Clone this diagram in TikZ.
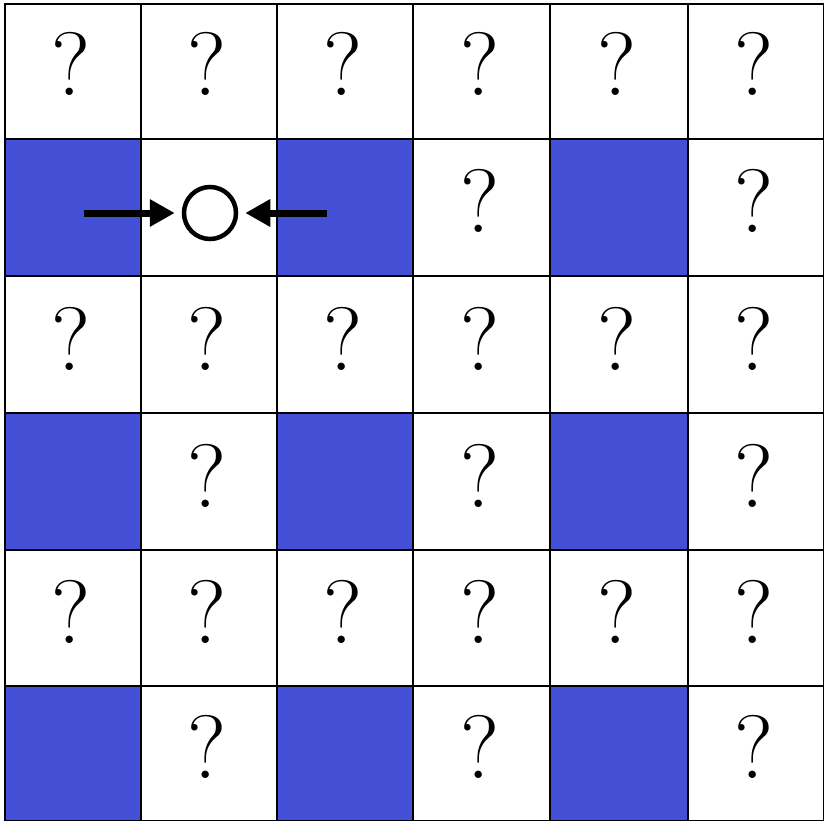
\documentclass[tikz,border=0pt]{standalone}
\usetikzlibrary{arrows.meta}
\definecolor{cellblue}{RGB}{67,80,213}
\begin{document}
\begin{tikzpicture}[x=1pt,y=-1pt,
  gridline/.style={line width=2.8pt,black,line cap=rect},
  bluecell/.style={fill=cellblue},
  qmark/.style={anchor=base,inner sep=0pt,font=\fontsize{90}{90}\selectfont},
  ring/.style={circle,draw,line width=4.5pt,minimum size=52pt,inner sep=0pt},
  pusharrow/.style={line width=7pt,-{Triangle[length=25pt,width=26pt]}}]
\useasboundingbox (0,0) rectangle (824,821);
\clip (0,0) rectangle (824,821);
% blue cells
\foreach \ya/\yb in {139/276,413/550,686/821}{
  \foreach \xa/\xb in {5/141,277/413,550/688}{
    \fill[bluecell] (\xa,\ya) rectangle (\xb,\yb);
  }
}
% question marks in full rows
\foreach \r/\yb in {0/139,2/413,4/686}{
  \foreach \c/\xa/\xb in {0/5/141,1/141/277,2/277/413,3/413/550,4/550/688,5/688/824}{
    \node[qmark] (q\r\c) at ({(\xa+\xb)/2-2},\yb-43) {?};
  }
}
% question marks in blue rows
\foreach \r/\yb in {1/276,3/550,5/821}{
  \foreach \c/\xa/\xb in {3/413/550,5/688/824}{
    \node[qmark] (q\r\c) at ({(\xa+\xb)/2-2},\yb-43) {?};
  }
}
\foreach \r/\yb in {3/550,5/821}{
  \node[qmark] (q\r1) at (207,\yb-43) {?};
}
% grid
\foreach \x in {5,141,277,413,550,688,824}{
  \draw[gridline] (\x,4) -- (\x,821);
}
\foreach \y in {4,139,276,413,550,686,821}{
  \draw[gridline] (5,\y) -- (824,\y);
}
% circle and arrows
\node[ring] (ball) at (210,213) {};
\coordinate (lstart) at (84,213);
\coordinate (rstart) at (327,213);
\draw[pusharrow] (lstart) -- ([xshift=-7pt]ball.west);
\draw[pusharrow] (rstart) -- ([xshift=7pt]ball.east);
\end{tikzpicture}
\end{document}
